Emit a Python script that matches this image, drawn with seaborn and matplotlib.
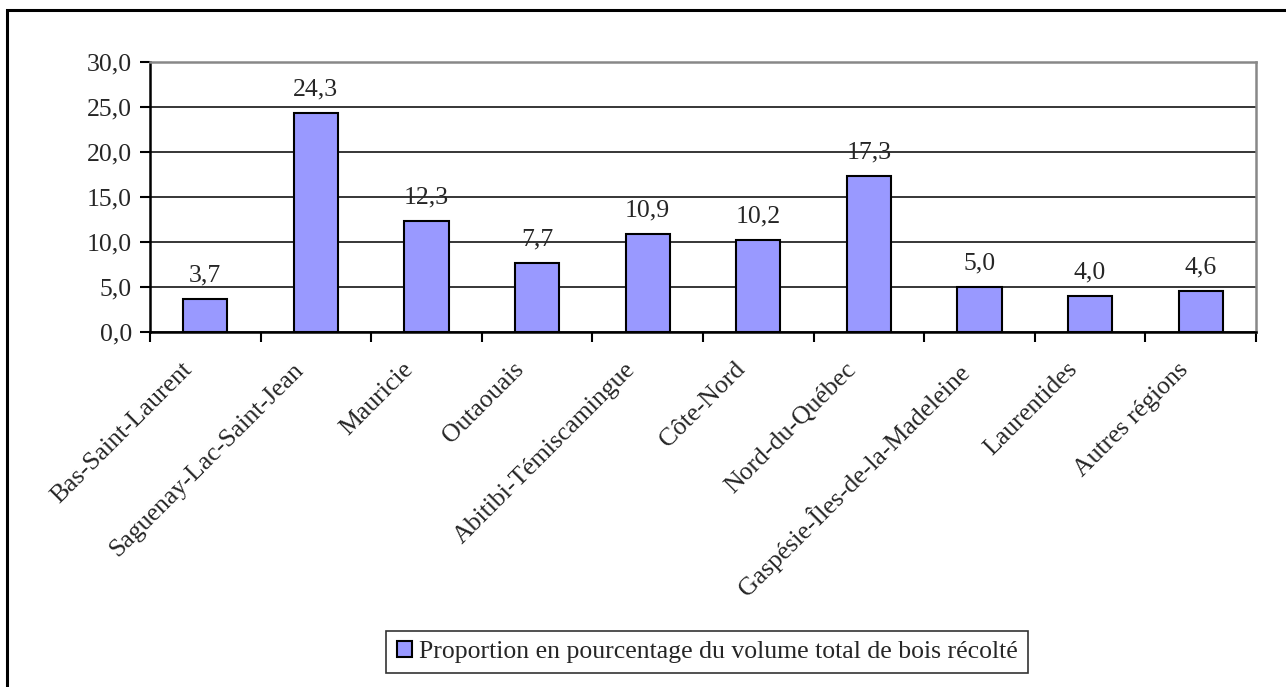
import matplotlib
matplotlib.use("Agg")
import matplotlib.pyplot as plt
import matplotlib.transforms as mtransforms
import seaborn as sns
import numpy as np
from matplotlib.patches import Rectangle
from matplotlib.ticker import FixedLocator, FuncFormatter

regions = ["Bas-Saint-Laurent", "Saguenay-Lac-Saint-Jean", "Mauricie", "Outaouais",
           "Abitibi-Témiscamingue", "Côte-Nord", "Nord-du-Québec",
           "Gaspésie-Îles-de-la-Madeleine", "Laurentides", "Autres régions"]
values = [3.7, 24.3, 12.3, 7.7, 10.9, 10.2, 17.3, 5.0, 4.0, 4.6]
series_label = "Proportion en pourcentage du volume total de bois récolté"
yticks = [0, 5, 10, 15, 20, 25, 30]

sns.set_style("white")
plt.rcParams['font.family'] = ['Liberation Serif', 'DejaVu Serif']
FS = 18.5

W, H = 1286, 687
fig = plt.figure(figsize=(W / 100, H / 100), dpi=100)
ax = fig.add_axes([150 / W, 1 - 332 / H, (1256 - 150) / W, (332 - 62) / H])

sns.barplot(x=regions, y=values, color="#9999FF", edgecolor="black", linewidth=1.5,
            width=0.4, saturation=1, label=series_label, ax=ax, zorder=3)

ax.set_xlim(-0.5, len(regions) - 0.5)
ax.set_ylim(0, 30)
ax.set_yticks(yticks)
ax.yaxis.set_major_formatter(FuncFormatter(lambda v, p: f"{v:.1f}".replace(".", ",")))
ax.yaxis.grid(True, color="black", linewidth=1.1, zorder=0)
ax.set_axisbelow(True)
ax.set_xlabel("")
ax.set_ylabel("")

ax.set_xticks(range(len(regions)))
ax.set_xticklabels(regions, rotation=45, ha="right", rotation_mode="anchor", fontsize=FS)
ax.xaxis.set_minor_locator(FixedLocator(np.arange(-0.5, len(regions), 1.0)))
ax.tick_params(axis="x", which="major", length=0, pad=19)
ax.tick_params(axis="x", which="minor", length=7, width=1.5, color="black", direction="out", bottom=True)
ax.tick_params(axis="y", which="major", length=7, width=1.5, color="black", direction="out",
               left=True, labelsize=FS, pad=6)

shift = mtransforms.ScaledTranslation(-24 / 100, 0, fig.dpi_scale_trans)
for lab in ax.get_xticklabels():
    lab.set_transform(lab.get_transform() + shift)

for s in ["left", "bottom"]:
    ax.spines[s].set_color("black")
    ax.spines[s].set_linewidth(1.8)
for s in ["top", "right"]:
    ax.spines[s].set_color("#888888")
    ax.spines[s].set_linewidth(1.8)
    ax.spines[s].set_visible(True)

for i, v in enumerate(values):
    ax.annotate(f"{v:.1f}".replace(".", ","), (i, v), xytext=(0, 9), textcoords="offset points",
                ha="center", va="bottom", fontsize=FS)

if ax.get_legend():
    ax.get_legend().remove()
handles, labels = ax.get_legend_handles_labels()
leg = fig.legend(handles[:1], labels[:1], loc="center", bbox_to_anchor=(707 / W, 1 - 652 / H),
                 frameon=True, fancybox=False, edgecolor="black", fontsize=FS,
                 handlelength=0.6, handleheight=0.6, handletextpad=0.25, borderpad=0.4,
                 borderaxespad=0)
leg.get_frame().set_linewidth(1.2)

fig.patches.append(Rectangle((7 / W, -0.1), 1.2, 1 - 10 / H + 0.1, transform=fig.transFigure,
                             fill=False, edgecolor="black", linewidth=2.2))

fig.savefig("out.png", dpi=100, facecolor="white")
